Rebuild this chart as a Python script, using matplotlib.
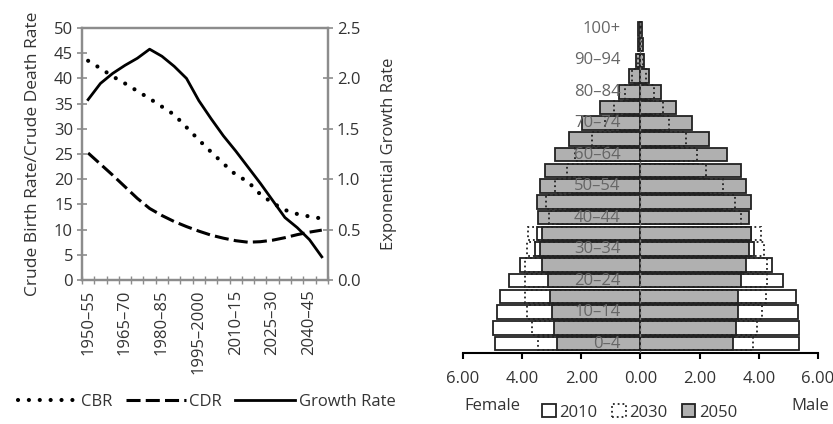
import matplotlib
matplotlib.use('Agg')
import matplotlib.pyplot as plt
from matplotlib.patches import Patch
from matplotlib.lines import Line2D
import numpy as np

plt.rcParams['font.family'] = ['Open Sans', 'DejaVu Sans']
plt.rcParams['font.size'] = 12

# --- left panel: rates by period ---
periods = ['1950–55', '1955–60', '1960–65', '1965–70', '1970–75', '1975–80',
           '1980–85', '1985–90', '1990–95', '1995–2000', '2000–05', '2005–10',
           '2010–15', '2015–20', '2020–25', '2025–30', '2030–35', '2035–40',
           '2040–45', '2045–50']
cbr = [43.5, 42.0, 40.4, 39.0, 37.5, 36.0, 34.4, 32.8, 30.3, 27.8,
       25.4, 23.1, 20.9, 19.5, 17.0, 15.3, 13.9, 13.1, 12.6, 12.2]
cdr = [25.2, 23.0, 20.8, 18.5, 16.2, 14.2, 12.8, 11.6, 10.6, 9.7,
       8.9, 8.3, 7.8, 7.5, 7.6, 7.9, 8.4, 9.0, 9.5, 9.9]
growth = [1.79, 1.95, 2.05, 2.13, 2.20, 2.29, 2.22, 2.12, 2.00, 1.78,
          1.60, 1.43, 1.28, 1.12, 0.96, 0.79, 0.62, 0.52, 0.40, 0.23]

# --- right panel: population pyramid (% of population) ---
ages = ['0–4', '5–9', '10–14', '15–19', '20–24', '25–29', '30–34', '35–39',
        '40–44', '45–49', '50–54', '55–59', '60–64', '65–69', '70–74',
        '75–79', '80–84', '85–89', '90–94', '95–99', '100+']
f2010 = [4.92, 4.97, 4.86, 4.75, 4.43, 4.07, 3.56, 3.50, 2.82, 2.49, 2.30,
         1.81, 1.40, 0.96, 0.68, 0.56, 0.34, 0.18, 0.07, 0.02, 0.01]
f2030 = [3.45, 3.67, 3.84, 3.90, 3.90, 3.90, 3.84, 3.79, 3.10, 3.20, 2.90,
         2.50, 2.20, 1.64, 1.20, 0.90, 0.52, 0.28, 0.10, 0.04, 0.02]
f2050 = [2.82, 2.94, 3.00, 3.05, 3.11, 3.33, 3.39, 3.33, 3.45, 3.50, 3.39,
         3.22, 2.88, 2.43, 1.98, 1.36, 0.73, 0.40, 0.15, 0.10, 0.08]
m2010 = [5.37, 5.37, 5.31, 5.25, 4.80, 4.46, 3.85, 3.75, 3.10, 2.71, 2.32,
         1.92, 1.30, 0.96, 0.68, 0.40, 0.23, 0.12, 0.05, 0.02, 0.01]
m2030 = [3.79, 3.95, 4.12, 4.24, 4.29, 4.29, 4.18, 4.07, 3.40, 3.20, 2.80,
         2.20, 1.90, 1.53, 0.96, 0.75, 0.45, 0.20, 0.07, 0.03, 0.01]
m2050 = [3.11, 3.22, 3.28, 3.28, 3.39, 3.56, 3.67, 3.73, 3.67, 3.73, 3.56,
         3.39, 2.94, 2.32, 1.75, 1.19, 0.68, 0.28, 0.12, 0.08, 0.06]
xtick_vals = [-6, -4, -2, 0, 2, 4, 6]

axis_grey = '#8c8c8c'
text_col = '#333333'
bar_grey = '#b0b0b0'
edge = '#222222'
dots = (0, (0.01, 2.6))

fig = plt.figure(figsize=(8.33, 4.24), dpi=100)

ax1 = fig.add_axes([0.0984, 0.3396, 0.2953, 0.5943])
x = np.arange(len(periods))
ax1.plot(x, cbr, color='k', lw=3, linestyle=dots, dash_capstyle='round')
ax1.plot(x, cdr, color='k', lw=2.2, linestyle=(0, (4.6, 1.7)))
ax1.set_xlim(-0.5, len(periods) - 0.5)
ax1.set_ylim(0, 50)
ax1.set_yticks(range(0, 51, 5))
ax1.set_xticks(x[::3])
ax1.set_xticklabels(periods[::3], rotation=90)
ax1.set_xticks(np.arange(-0.5, len(periods), 1), minor=True)
ax1.tick_params(axis='x', which='major', length=0, pad=7, labelcolor=text_col)
ax1.tick_params(axis='x', which='minor', direction='inout', length=6,
                width=1, color=axis_grey)
ax1.tick_params(axis='y', direction='inout', length=7, width=1.2,
                color=axis_grey, pad=3, labelcolor=text_col)
ax1.set_ylabel('Crude Birth Rate/Crude Death Rate', color=text_col,
               labelpad=9, fontsize=12.5)

ax2 = ax1.twinx()
ax2.plot(x, growth, color='k', lw=2)
ax2.set_ylim(0, 2.5)
ax2.set_yticks([0, 0.5, 1.0, 1.5, 2.0, 2.5])
ax2.set_yticklabels(['0.0', '0.5', '1.0', '1.5', '2.0', '2.5'])
ax2.tick_params(axis='y', direction='inout', length=7, width=1.2,
                color=axis_grey, pad=3, labelcolor=text_col)
ax2.set_ylabel('Exponential Growth Rate', color=text_col, labelpad=15)
for a in (ax1, ax2):
    for s in a.spines.values():
        s.set_color(axis_grey)
        s.set_linewidth(1.6)

fig.legend(handles=[
    Line2D([], [], color='k', lw=3, linestyle=dots, dash_capstyle='round'),
    Line2D([], [], color='k', lw=2.2, linestyle=(0, (4.6, 1.7))),
    Line2D([], [], color='k', lw=2)],
    labels=['CBR', 'CDR', 'Growth Rate'], loc='center',
    bbox_to_anchor=(0.248, 0.052), ncol=3, frameon=False, handlelength=3.6,
    columnspacing=0.8, handletextpad=0.2, labelcolor=text_col)

# pyramid
ax3 = fig.add_axes([0.5558, 0.1675, 0.4262, 0.783])
y = np.arange(len(ages))
h = 0.86
ax3.barh(y, [-v for v in f2010], height=h, color='white', edgecolor=edge, lw=1.3)
ax3.barh(y, m2010, height=h, color='white', edgecolor=edge, lw=1.3)
ax3.barh(y, [-v for v in f2050], height=h, color=bar_grey, edgecolor=edge, lw=1.3)
ax3.barh(y, m2050, height=h, color=bar_grey, edgecolor=edge, lw=1.3)
ax3.barh(y, [-v for v in f2030], height=h, fill=False, edgecolor=edge,
         lw=1.3, linestyle=':')
ax3.barh(y, m2030, height=h, fill=False, edgecolor=edge, lw=1.3, linestyle=':')
ax3.axvline(0, color='#777777', lw=1, linestyle=(0, (2, 2)), zorder=5)
for i in range(0, len(ages), 2):
    ax3.text(-0.68, y[i], ages[i], ha='right', va='center', color='#666666',
             zorder=6)
ax3.set_xlim(-6, 6)
ax3.set_ylim(-0.6, len(ages) - 0.5)
ax3.set_yticks([])
ax3.set_xticks(xtick_vals)
ax3.set_xticklabels(['%.2f' % abs(v) for v in xtick_vals])
ax3.tick_params(axis='x', length=4, width=1.5, pad=9, labelcolor=text_col)
for s in ('left', 'right', 'top'):
    ax3.spines[s].set_visible(False)
ax3.spines['bottom'].set_linewidth(1.5)

fig.text(0.5906, 0.042, 'Female', ha='center', va='center', color=text_col)
fig.text(0.9724, 0.042, 'Male', ha='center', va='center', color=text_col)
fig.legend(handles=[
    Patch(facecolor='white', edgecolor=edge, lw=1.3),
    Patch(facecolor='none', edgecolor=edge, lw=1.3, linestyle=':'),
    Patch(facecolor=bar_grey, edgecolor=edge, lw=1.3)],
    labels=['2010', '2030', '2050'], loc='center',
    bbox_to_anchor=(0.768, 0.027), ncol=3, frameon=False, handlelength=0.8,
    handleheight=0.8, handletextpad=0.2, columnspacing=0.9,
    labelcolor=text_col, borderpad=0.1)

fig.savefig('out.png', dpi=100)
